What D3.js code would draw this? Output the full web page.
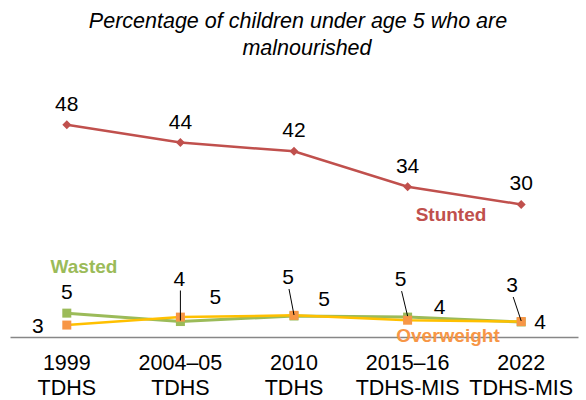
<!DOCTYPE html>
<html><head><meta charset="utf-8">
<script src="https://cdn.jsdelivr.net/npm/d3@7/dist/d3.min.js"></script>
<style>body{margin:0;background:#fff}svg{display:block;font-family:"Liberation Sans",Arial,sans-serif}</style>
</head><body><svg id="c" width="586" height="400"></svg>
<script>
// ---- data ----
const categories = ["1999", "2004–05", "2010", "2015–16", "2022"];
const surveys = ["TDHS", "TDHS", "TDHS", "TDHS-MIS", "TDHS-MIS"];
const stunted = [48, 44, 42, 34, 30];
const wasted = [5.4, 3.5, 4.75, 4.5, 3.4];
const overweight = [2.7, 4.5, 4.9, 3.8, 3.5];
const titleLines = ["Percentage of children under age 5 who are", "malnourished"];
const seriesNames = ["Stunted", "Wasted", "Overweight"];

// ---- layout (positions/styles) ----
const colors = {Stunted: "#c0504d", Wasted: "#9bbb59", Overweight: "#f79646", OverweightLine: "#ffc000"};
const wastedLabelOffset = [[0, -14, false], [-1, -36, true], [-6, -32, true], [-7, -31, true], [-9, -30, true]];
const overLabelOffset = [[-29, 8], [35, -13], [30, -9], [32, -6], [19, 7]];
const seriesLabelPos = {Stunted: [451, 221], Wasted: [84, 273], Overweight: [448, 342]};

const svg = d3.select("#c");
const x = d3.scaleBand().domain(categories).range([10, 578]);
const cx = c => x(c) + x.bandwidth() / 2;
const y = d3.scaleLinear().domain([0, 60]).range([337, 337 - 60 * 4.42]);

// title
svg.append("text").attr("x", 298).attr("y", 28).attr("text-anchor", "middle")
  .attr("font-size", 21.5).attr("font-style", "italic").attr("fill", "#000").text(titleLines[0]);
svg.append("text").attr("x", 307).attr("y", 55).attr("text-anchor", "middle")
  .attr("font-size", 21.5).attr("font-style", "italic").attr("fill", "#000").text(titleLines[1]);

// axis
const ax = svg.append("g").attr("transform", "translate(0,337)")
  .call(d3.axisBottom(x).tickSize(0).tickSizeOuter(0).tickPadding(0));
ax.select(".domain").attr("stroke", "#878787").attr("stroke-width", 1.5);
ax.selectAll(".tick text").each(function(d, i) {
  const t = d3.select(this).text(null).attr("font-size", 21.5).attr("fill", "#000")
    .attr("font-family", '"Liberation Sans",Arial,sans-serif').attr("dy", null).attr("y", 0);
  t.append("tspan").attr("x", 0).attr("y", 33).text(d);
  t.append("tspan").attr("x", 0).attr("y", 58).text(surveys[i]);
});

const line = d3.line().x((d, i) => cx(categories[i])).y(d => y(d));

// wasted
svg.append("path").datum(wasted).attr("d", line).attr("fill", "none")
  .attr("stroke", colors.Wasted).attr("stroke-width", 3);
svg.selectAll(".wm").data(wasted).join("rect")
  .attr("x", (d, i) => cx(categories[i]) - 4.5).attr("y", d => y(d) - 4.5)
  .attr("width", 9).attr("height", 9).attr("fill", colors.Wasted);

// overweight
svg.append("path").datum(overweight).attr("d", line).attr("fill", "none")
  .attr("stroke", colors.OverweightLine).attr("stroke-width", 2.5);
svg.selectAll(".om").data(overweight).join("rect")
  .attr("x", (d, i) => cx(categories[i]) - 4.5).attr("y", d => y(d) - 4.5)
  .attr("width", 9).attr("height", 9).attr("fill", colors.Overweight);

// stunted
svg.append("path").datum(stunted).attr("d", line).attr("fill", "none")
  .attr("stroke", colors.Stunted).attr("stroke-width", 2.5);
svg.selectAll(".sm").data(stunted).join("path")
  .attr("transform", (d, i) => `translate(${cx(categories[i])},${y(d)})`)
  .attr("d", "M0,-4.5L4.5,0L0,4.5L-4.5,0Z").attr("fill", colors.Stunted);

// data labels
const lbl = (sel) => sel.attr("font-size", 21).attr("fill", "#000").attr("text-anchor", "middle");
svg.selectAll(".sl").data(stunted).join("text").call(lbl)
  .attr("x", (d, i) => cx(categories[i])).attr("y", d => y(d) - 14).text(d => d);

wasted.forEach((d, i) => {
  const [dx, dy, lead] = wastedLabelOffset[i];
  const px = cx(categories[i]), py = y(d);
  if (lead) {
    svg.append("line").attr("x1", px + dx + 1).attr("y1", py + dy + 5)
      .attr("x2", px).attr("y2", py - 1).attr("stroke", "#000").attr("stroke-width", 1);
  }
  svg.append("text").call(lbl).attr("x", px + dx).attr("y", py + dy).text(Math.round(d));
});
overweight.forEach((d, i) => {
  const [dx, dy] = overLabelOffset[i];
  svg.append("text").call(lbl).attr("x", cx(categories[i]) + dx).attr("y", y(d) + dy).text(Math.round(d));
});

// series labels
seriesNames.forEach(n => {
  svg.append("text").attr("x", seriesLabelPos[n][0]).attr("y", seriesLabelPos[n][1])
    .attr("text-anchor", "middle").attr("font-size", 19).attr("font-weight", "bold")
    .attr("fill", colors[n]).text(n);
});
</script></body></html>
